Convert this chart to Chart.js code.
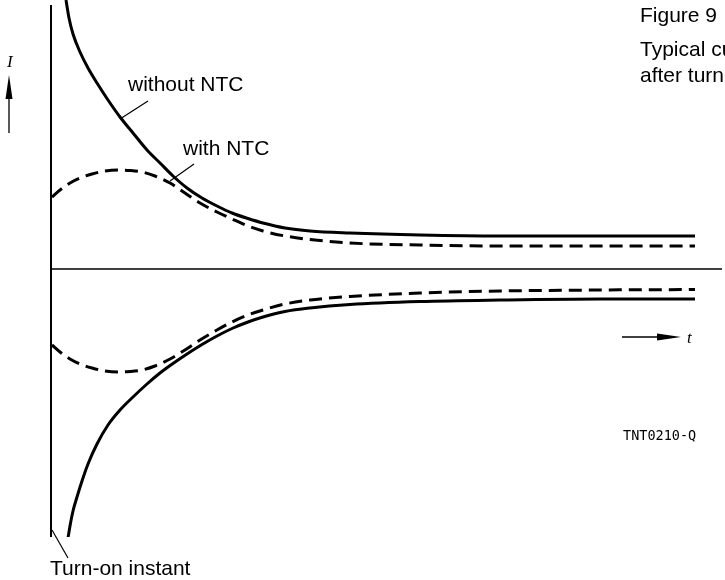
<!DOCTYPE html>
<html>
<head>
<meta charset="utf-8">
<script src="https://cdn.jsdelivr.net/npm/chart.js@4"></script>
<style>
  body { margin: 0; background: #fff; }
  canvas { display: block; }
</style>
</head>
<body>
<canvas id="ntc" width="725" height="580"></canvas>
<script>
// time after turn-on (arbitrary units) and current I (arbitrary units)
var tWithoutPos = [1.5, 1.8, 2.2, 2.9, 3.7, 4.6, 5.7, 6.9, 8.2, 9.6, 10.9, 12.2, 13.6, 15.1, 16.6, 18.1, 19.7, 21.2, 23.4, 25.9, 29.9, 36.9, 44.9, 54.9, 64.4];
var iWithoutPos = [26.9, 25.1, 23.5, 21.7, 20.1, 18.6, 16.9, 15.2, 13.6, 11.9, 10.6, 9.3, 8.1, 7.1, 6.3, 5.6, 5.05, 4.6, 4.1, 3.8, 3.6, 3.4, 3.3, 3.3, 3.3];

var tWith = [0.1, 0.9, 1.9, 2.9, 4.1, 5.4, 6.7, 7.9, 9.1, 10.4, 11.9, 13.4, 14.9, 16.6, 18.1, 19.7, 21.2, 23.4, 25.9, 29.9, 36.9, 44.9, 54.9, 64.4];
var iWithPos = [7.2, 7.9, 8.6, 9.1, 9.5, 9.8, 9.9, 9.85, 9.7, 9.3, 8.6, 7.6, 6.6, 5.7, 5.0, 4.3, 3.8, 3.3, 2.95, 2.6, 2.4, 2.3, 2.3, 2.3];
var iWithNeg = [-7.6, -8.3, -9.0, -9.5, -9.9, -10.2, -10.3, -10.25, -10.1, -9.7, -9.0, -8.1, -7.1, -6.1, -5.3, -4.6, -4.1, -3.5, -3.1, -2.75, -2.4, -2.2, -2.1, -2.05];

var tWithoutNeg = [1.7, 1.9, 2.2, 2.6, 3.1, 3.7, 4.6, 5.7, 6.9, 8.2, 9.6, 10.9, 12.2, 13.6, 15.1, 16.6, 18.1, 19.7, 21.2, 23.4, 25.9, 29.9, 36.9, 44.9, 54.9, 64.4];
var iWithoutNeg = [-26.9, -25.7, -24.2, -22.8, -21.2, -19.5, -17.5, -15.6, -14.1, -12.8, -11.5, -10.4, -9.45, -8.5, -7.55, -6.7, -5.95, -5.3, -4.8, -4.25, -3.9, -3.55, -3.25, -3.1, -3.0, -3.0];

function pts(ts, is) {
    return ts.map(function (t, k) { return { x: t, y: is[k] }; });
}

var solid = { borderColor: '#000', borderWidth: 3, pointRadius: 0, fill: false,
    cubicInterpolationMode: 'monotone', clip: { left: 0, top: 6, right: 0, bottom: 0 } };
var dashed = { borderColor: '#000', borderWidth: 3, borderDash: [13, 7], pointRadius: 0, fill: false,
    cubicInterpolationMode: 'monotone', clip: { left: 0, top: 6, right: 0, bottom: 0 } };

// axes, arrows and labels of the figure
var figureParts = {
    id: 'figureParts',
    afterDraw: function (chart) {
        var c = chart.ctx;
        var xs = chart.scales.x, ys = chart.scales.y, a = chart.chartArea;
        var x0 = xs.getPixelForValue(0), y0 = ys.getPixelForValue(0);
        c.save();
        c.strokeStyle = '#000';
        c.fillStyle = '#000';

        c.lineWidth = 2;
        c.beginPath(); c.moveTo(x0, a.top); c.lineTo(x0, a.bottom); c.stroke();
        c.lineWidth = 1.3;
        c.beginPath(); c.moveTo(x0, y0); c.lineTo(a.right + 1, y0); c.stroke();

        // leader lines
        c.lineWidth = 1.2;
        c.beginPath(); c.moveTo(148, 101); c.lineTo(120, 119); c.stroke();
        c.beginPath(); c.moveTo(194, 164); c.lineTo(170, 181); c.stroke();
        c.beginPath(); c.moveTo(52, 530); c.lineTo(68, 558); c.stroke();

        // I arrow
        c.lineWidth = 1.3;
        c.beginPath(); c.moveTo(9, 133); c.lineTo(9, 95); c.stroke();
        c.beginPath(); c.moveTo(9, 75); c.lineTo(5.5, 99); c.lineTo(12.5, 99); c.closePath(); c.fill();
        // t arrow
        c.beginPath(); c.moveTo(622, 337); c.lineTo(660, 337); c.stroke();
        c.beginPath(); c.moveTo(681, 337); c.lineTo(657, 333.5); c.lineTo(657, 340.5); c.closePath(); c.fill();

        c.textBaseline = 'alphabetic';
        c.font = 'italic 17px "Liberation Serif", serif';
        c.fillText('I', 7, 67);
        c.fillText('t', 687, 343);

        c.font = '21px "Liberation Sans", Arial, sans-serif';
        c.fillText('without NTC', 128, 91);
        c.fillText('with NTC', 183, 155);
        c.fillText('Turn-on instant', 50, 575);
        c.fillText('Figure 9', 640, 22);
        c.fillText('Typical current', 640, 56);
        c.fillText('after turn-on', 640, 82);

        c.font = '13.5px "DejaVu Sans Mono", monospace';
        c.fillText('TNT0210-Q', 623, 440);
        c.restore();
    }
};

var ctx = document.getElementById('ntc').getContext('2d');
var myChart = new Chart(ctx, {
    type: 'line',
    data: {
        datasets: [
            Object.assign({ label: 'without NTC', data: pts(tWithoutPos, iWithoutPos) }, solid),
            Object.assign({ label: 'with NTC', data: pts(tWith, iWithPos) }, dashed),
            Object.assign({ label: 'with NTC (neg)', data: pts(tWith, iWithNeg) }, dashed),
            Object.assign({ label: 'without NTC (neg)', data: pts(tWithoutNeg, iWithoutNeg) }, solid)
        ]
    },
    options: {
        responsive: false,
        animation: false,
        devicePixelRatio: 1,
        layout: { padding: { left: 51, top: 5, right: 4, bottom: 43 } },
        plugins: { legend: { display: false }, tooltip: { enabled: false } },
        scales: {
            x: { type: 'linear', min: 0, max: 67, display: false },
            y: { type: 'linear', min: -26.8, max: 26.4, display: false }
        }
    },
    plugins: [figureParts]
});
</script>
</body>
</html>
